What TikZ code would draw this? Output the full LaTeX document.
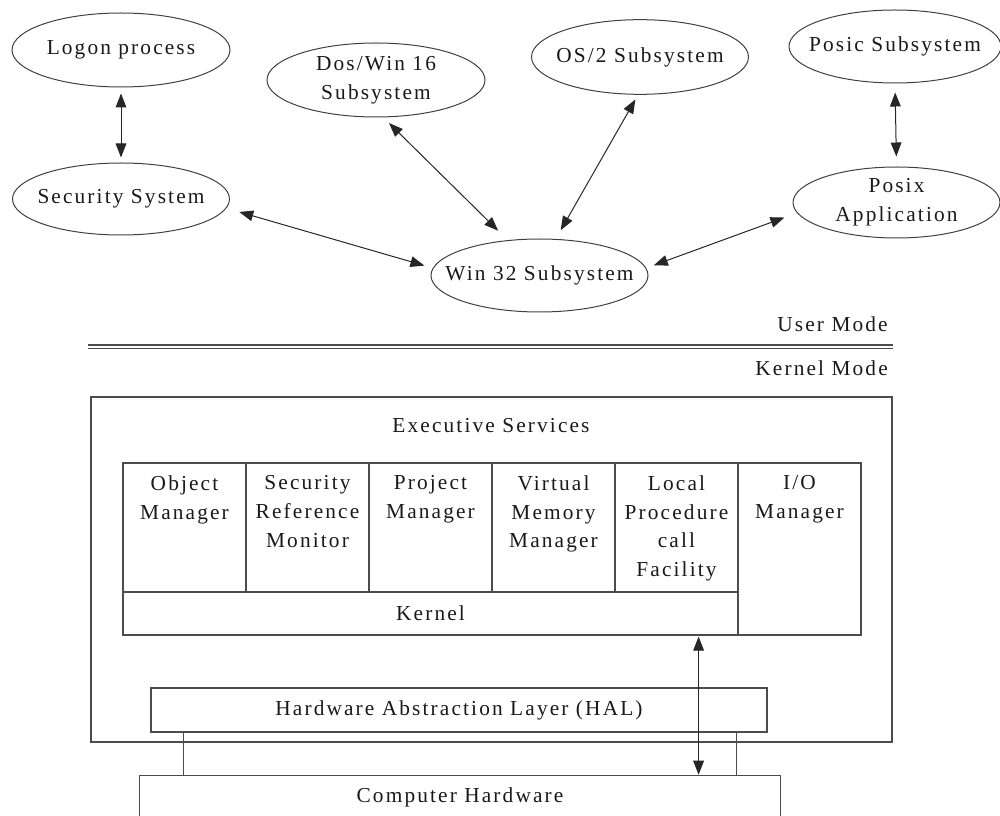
\documentclass[tikz,border=0pt]{standalone}
\usepackage{fontspec}
\setmainfont{Liberation Serif}[LetterSpace=10]
\usetikzlibrary{arrows.meta,shapes.geometric}
\begin{document}
\begin{tikzpicture}[x=0.75pt,y=-0.75pt,
  font=\fontsize{16}{21.5}\selectfont,
  every node/.style={text=black!90},
  ell/.style={ellipse,draw=black!75,line width=0.75pt,inner sep=0pt,
    minimum width=163pt,minimum height=55pt},
  inlabel/.style={label={[inner sep=0pt,align=center,text=black!90]center:#1}},
  box/.style={rectangle,draw=black!70,line width=0.9pt,inner sep=0pt},
  celltext/.style={inner sep=0pt,align=center,anchor=north},
  arr/.style={{Triangle[length=10.5pt,width=8pt]}-{Triangle[length=10.5pt,width=8pt]},
    draw=black!85,line width=0.75pt},
  thin line/.style={draw=black!70,line width=0.9pt}]
\useasboundingbox (0,0) rectangle (1000,816);

% ---- user mode ellipses ----
\node[ell,minimum width=163.5pt,minimum height=55.5pt,inlabel={Logon process}] (logon) at (121,50) {};
\node[ell,minimum width=162.75pt,minimum height=54pt,inlabel={Security System}] (security) at (121,199) {};
\node[ell,minimum width=163.5pt,minimum height=55.5pt,inlabel={Dos/Win 16\\Subsystem}] (dos) at (376,80) {};
\node[ell,minimum width=162.75pt,minimum height=56pt,inlabel={OS/2 Subsystem}] (os2) at (640,57) {};
\node[ell,minimum width=159pt,minimum height=54.75pt,inlabel={Posic Subsystem}] (posic) at (895,46.5) {};
\node[ell,minimum width=155.25pt,minimum height=53.25pt,inlabel={Posix\\Application}] (posix) at (896.5,202.5) {};
\node[ell,minimum width=162.75pt,minimum height=54.75pt,inlabel={Win 32 Subsystem}] (win) at (539.5,275.5) {};

\draw[arr,shorten <=4.5pt,shorten >=3.75pt] (logon.south) -- (security.north);
\draw[arr,shorten <=6.75pt,shorten >=7.5pt] (posic.south) -- (posix.north);
\draw[arr,shorten <=6pt,shorten >=10pt] (dos.-79) -- (win.132);
\draw[arr,shorten <=4pt,shorten >=7.5pt] (os2.-93) -- (win.66);
\draw[arr,shorten <=10pt,shorten >=6.5pt] (security.-5) -- (win.176);
\draw[arr,shorten <=6pt,shorten >=10pt] (win.4) -- (posix.186);

% ---- mode separator ----
\node[anchor=base east,inner sep=0pt] (umode) at (888,332) {User Mode};
\node[anchor=base east,inner sep=0pt] (kmode) at (888,376) {Kernel Mode};
\coordinate (sepL) at (88,345);
\coordinate (sepR) at (893,345);
\draw[thin line] (sepL) -- (sepR);
\draw[thin line] ([yshift=-2.7pt]sepL) -- ([yshift=-2.7pt]sepR);

% ---- executive ----
\node[box,minimum width=600.75pt,minimum height=258.75pt] (exec) at (491.5,569.5) {};
\node[inner sep=0pt] (exectext) at (491,426) {Executive Services};

\node[box,minimum width=92.25pt,minimum height=96.75pt] (obj) at (184.5,527.5) {};
\node[box,minimum width=92.25pt,minimum height=96.75pt] (srm) at (307.5,527.5) {};
\node[box,minimum width=92.25pt,minimum height=96.75pt] (pm)  at (430.5,527.5) {};
\node[box,minimum width=92.25pt,minimum height=96.75pt] (vmm) at (553.5,527.5) {};
\node[box,minimum width=92.25pt,minimum height=96.75pt] (lpc) at (676.5,527.5) {};
\node[box,minimum width=92.25pt,minimum height=129pt] (io) at (799.5,549) {};
\node[box,minimum width=461.25pt,minimum height=32.25pt] (kernel) at (430.5,613.5) {Kernel};

\node[celltext,below=9.75pt] at (obj.north) {Object\\Manager};
\node[celltext,below=9.75pt] at (srm.north) {Security\\Reference\\Monitor};
\node[celltext,below=9.75pt] at (pm.north) {Project\\Manager};
\node[celltext,below=9.75pt] at (vmm.north) {Virtual\\Memory\\Manager};
\node[celltext,below=9.75pt] at (lpc.north) {Local\\Procedure\\call\\Facility};
\node[celltext,below=9.75pt] at (io.north) {I/O\\Manager};

\node[box,minimum width=462pt,minimum height=33pt] (hal) at (459,710) {Hardware Abstraction Layer (HAL)};

% ---- computer hardware (open at the bottom) ----
\node[inner sep=0pt,minimum width=480pt,minimum height=31.5pt] (hw) at (460,797) {Computer Hardware};
\draw[thin line] (hw.south west) -- (hw.north west) -- (hw.north east) -- (hw.south east);

\draw[thin line] ([xshift=24.75pt]hal.south west) coordinate (l1) -- (l1 |- hw.north);
\draw[thin line] ([xshift=-23.25pt]hal.south east) coordinate (r1) -- (r1 |- hw.north);
\draw[arr,shorten <=0.75pt,shorten >=0.75pt] ([xshift=-30pt]kernel.south east) coordinate (a1) -- (a1 |- hw.north);
\end{tikzpicture}
\end{document}
